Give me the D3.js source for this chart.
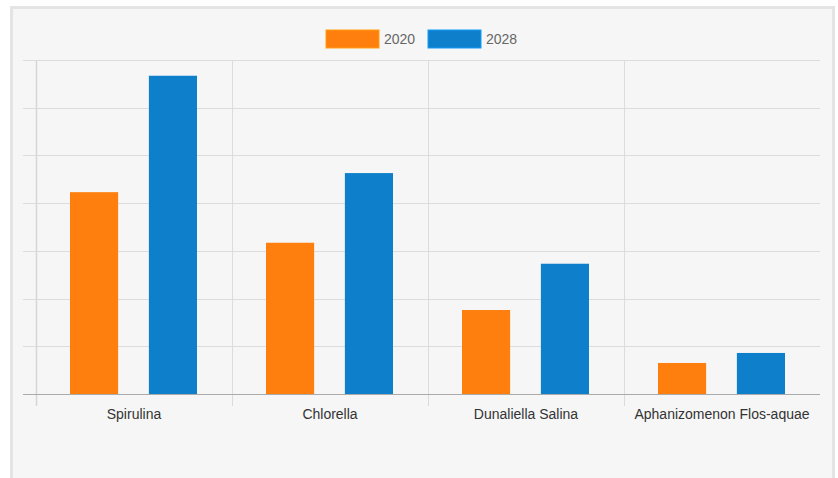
<!DOCTYPE html>
<html>
<head>
<meta charset="utf-8">
<script src="https://cdn.jsdelivr.net/npm/d3@7"></script>
<style>
  body { margin: 0; background: #fff; }
  svg { display: block; font-family: "Liberation Sans", Arial, sans-serif; }
</style>
</head>
<body>
<div id="chart"></div>
<script>
const categories = ['Spirulina', 'Chlorella', 'Dunaliella Salina', 'Aphanizomenon Flos-aquae'];
const seriesNames = ['2020', '2028'];
const values2020 = [42.3, 31.7, 17.6, 6.5];
const values2028 = [66.7, 46.3, 27.3, 8.6];
const yTicks = [0, 10, 20, 30, 40, 50, 60, 70];
const colors = ['#ff7f0e', '#0e7fca'];

const width = 838;
const height = 478;
const margin = { top: 60, right: 18, bottom: 84, left: 36 };

const svg = d3.select('#chart')
    .append('svg')
    .attr('width', width)
    .attr('height', height);

// panel background with border
svg.append('rect')
    .attr('x', 11.5)
    .attr('y', 7.5)
    .attr('width', 822)
    .attr('height', 480)
    .attr('fill', '#f6f6f6')
    .attr('stroke', '#e4e4e4')
    .attr('stroke-width', 3);

const x = d3.scaleBand()
    .domain(categories)
    .range([margin.left, width - margin.right]);

const xInner = d3.scaleBand()
    .domain(seriesNames)
    .range([34, 161])
    .paddingInner(0.39);

const y = d3.scaleLinear()
    .domain([0, 70])
    .range([height - margin.bottom, margin.top]);

// horizontal grid
svg.append('g')
    .selectAll('line')
    .data(yTicks)
    .enter().append('line')
    .attr('x1', 23)
    .attr('x2', width - margin.right)
    .attr('y1', d => Math.round(y(d)) + 0.5)
    .attr('y2', d => Math.round(y(d)) + 0.5)
    .attr('stroke', '#dcdcdc');

// vertical grid at category boundaries
svg.append('g')
    .selectAll('line')
    .data(categories.slice(1))
    .enter().append('line')
    .attr('x1', d => Math.round(x(d)) + 0.5)
    .attr('x2', d => Math.round(x(d)) + 0.5)
    .attr('y1', margin.top)
    .attr('y2', height - margin.bottom + 12)
    .attr('stroke', '#dcdcdc');

// left axis line
svg.append('line')
    .attr('x1', margin.left + 0.5)
    .attr('x2', margin.left + 0.5)
    .attr('y1', margin.top)
    .attr('y2', height - margin.bottom + 12)
    .attr('stroke', '#d6d6d6')
    .attr('stroke-width', 1.5);

const data = [values2020, values2028];

seriesNames.forEach((name, i) => {
    svg.append('g')
        .selectAll('rect')
        .data(categories)
        .enter().append('rect')
        .attr('x', (c) => x(c) + xInner(name))
        .attr('y', (c, j) => y(data[i][j]))
        .attr('width', xInner.bandwidth())
        .attr('height', (c, j) => y(0) - y(data[i][j]))
        .attr('fill', colors[i]);
});

// baseline
svg.append('line')
    .attr('x1', 23)
    .attr('x2', width - margin.right)
    .attr('y1', y(0) + 0.5)
    .attr('y2', y(0) + 0.5)
    .attr('stroke', '#aaaaaa');

// category labels
svg.append('g')
    .selectAll('text')
    .data(categories)
    .enter().append('text')
    .attr('x', d => x(d) + x.bandwidth() / 2)
    .attr('y', y(0) + 25)
    .attr('text-anchor', 'middle')
    .style('font-size', '14px')
    .style('fill', '#333')
    .text(d => d);

// legend
const legend = svg.append('g');
const legendX = [326, 428];
seriesNames.forEach((name, i) => {
    legend.append('rect')
        .attr('x', legendX[i])
        .attr('y', 30)
        .attr('width', 53)
        .attr('height', 18)
        .attr('fill', colors[i])
        .attr('stroke', d3.color(colors[i]).brighter(0.6))
        .attr('stroke-width', 1);
    legend.append('text')
        .attr('x', legendX[i] + 58)
        .attr('y', 44)
        .style('font-size', '14px')
        .style('fill', '#666')
        .text(name);
});
</script>
</body>
</html>
